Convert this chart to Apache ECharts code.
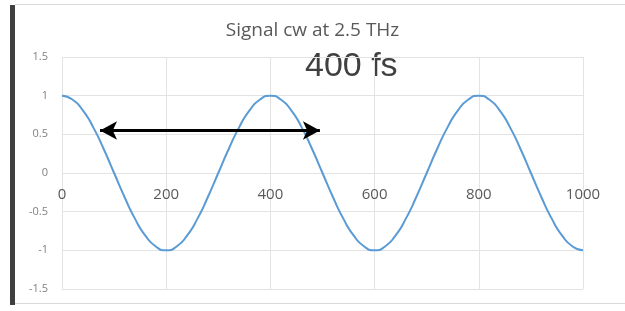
<!DOCTYPE html>
<html>
<head>
<meta charset="utf-8">
<script src="https://cdn.jsdelivr.net/npm/echarts@6/dist/echarts.min.js"></script>
<style>
  html, body { margin: 0; padding: 0; background: #fff; }
  #chart { width: 625px; height: 311px; }
</style>
</head>
<body>
<div id="chart"></div>
<script>
// time in fs, sampled every 20 fs
var times = [0, 20, 40, 60, 80, 100, 120, 140, 160, 180,
             200, 220, 240, 260, 280, 300, 320, 340, 360, 380,
             400, 420, 440, 460, 480, 500, 520, 540, 560, 580,
             600, 620, 640, 660, 680, 700, 720, 740, 760, 780,
             800, 820, 840, 860, 880, 900, 920, 940, 960, 980, 1000];
// signal
var signal = [1, 0.95, 0.81, 0.59, 0.31, 0, -0.31, -0.59, -0.81, -0.95,
              -1, -0.95, -0.81, -0.59, -0.31, 0, 0.31, 0.59, 0.81, 0.95,
              1, 0.95, 0.81, 0.59, 0.31, 0, -0.31, -0.59, -0.81, -0.95,
              -1, -0.95, -0.81, -0.59, -0.31, 0, 0.31, 0.59, 0.81, 0.95,
              1, 0.95, 0.81, 0.59, 0.31, 0, -0.31, -0.59, -0.81, -0.95, -1];
// double arrow marking one period (data coords)
var arrowStart = [73, 0.55];
var arrowEnd = [495, 0.55];
var periodLabel = '400 fs';

var myChart = echarts.init(document.getElementById('chart'));

var points = [];
for (var i = 0; i < times.length; i++) {
    points.push([times[i], signal[i]]);
}

var option = {
    animation: false,
    title: {
        text: 'Signal cw at 2.5 THz',
        left: 'center',
        top: 16,
        textStyle: { color: '#595959', fontSize: 19, fontWeight: 'normal', fontFamily: 'Open Sans' }
    },
    grid: { left: 62, right: 42, top: 57, bottom: 22 },
    xAxis: {
        type: 'value',
        min: 0, max: 1000, interval: 200,
        offset: -117, // axis labels sit on the y = 0 line
        axisLine: { show: false, onZero: false },
        axisTick: { show: false },
        axisLabel: {
            color: '#595959', fontSize: 15, margin: 15, fontFamily: 'Open Sans',
            formatter: function (v) { return String(v); }
        },
        splitLine: { show: true, lineStyle: { color: '#e3e3e3', width: 1 } }
    },
    yAxis: {
        type: 'value',
        min: -1.5, max: 1.5, interval: 0.5,
        axisLine: { show: false },
        axisTick: { show: false },
        axisLabel: { color: '#808080', fontSize: 11, margin: 14, fontFamily: 'Open Sans' },
        splitLine: { show: true, lineStyle: { color: '#e3e3e3', width: 1 } }
    },
    series: [{
        name: 'signal',
        type: 'line',
        data: points,
        smooth: 0.6,
        showSymbol: false,
        lineStyle: { color: '#5b9bd5', width: 2 },
        markLine: {
            silent: true,
            symbol: ['arrow', 'arrow'],
            symbolSize: [14, 17],
            label: { show: false },
            lineStyle: { color: '#000', width: 3, type: 'solid' },
            data: [[{ coord: arrowStart }, { coord: arrowEnd }]]
        }
    }],
    graphic: [
        { type: 'rect', shape: { x: 10, y: 5, width: 5, height: 300 }, style: { fill: '#404040' } },
        { type: 'rect', shape: { x: 15, y: 4, width: 610, height: 1 }, style: { fill: '#d9d9d9' } },
        { type: 'rect', shape: { x: 15, y: 303, width: 610, height: 1 }, style: { fill: '#d9d9d9' } },
        {
            type: 'text', left: 305, top: 50,
            style: { text: periodLabel, fill: '#404040', font: '34px "Liberation Sans", Arial' }
        }
    ]
};

myChart.setOption(option);
</script>
</body>
</html>
